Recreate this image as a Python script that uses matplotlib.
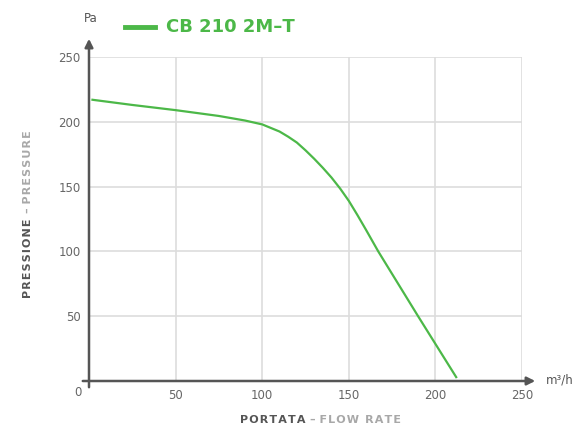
import matplotlib.pyplot as plt

# kurve
flow = [2, 25, 50, 75, 90, 100, 110, 115, 120, 125, 130, 135, 140, 145, 150, 155, 160, 167, 190, 212]
pressure = [217, 213, 209, 204.5, 201, 198, 192.5, 188.5, 184, 178, 171.5, 164.5, 157, 148.5,
            139, 128, 116.5, 100, 50, 3]

x_ticks = [50, 100, 150, 200, 250]
y_ticks = [50, 100, 150, 200, 250]
series_name = "CB 210 2M\u2013T"

W, H = 582, 428
fig = plt.figure(figsize=(W / 100, H / 100), dpi=100)
plt.rcParams['font.family'] = 'DejaVu Sans'

def fx(px):
    return px / W

def fy(py):
    return 1 - py / H

def spaced(s):
    # bred bogstavafstand som i originalen
    return "\u200a".join(s)

ax = fig.add_axes([fx(89), fy(381), fx(522) - fx(89), fy(57) - fy(381)])
ax.set_xlim(0, 250)
ax.set_ylim(0, 250)

green = "#4cb848"
dark = "#555555"
light = "#a8a8a8"

ax.plot(flow, pressure, color=green, linewidth=1.6, zorder=3)

ax.set_xticks(x_ticks)
ax.set_yticks(y_ticks)
ax.grid(True, color="#dddddd", linewidth=1.2)
ax.tick_params(length=0, colors="#666666", labelsize=8.5, pad=6)
for s in ax.spines.values():
    s.set_visible(False)

# akser med pile
ax.annotate("", xy=(fx(89), fy(36)), xytext=(fx(89), fy(390)), xycoords="figure fraction",
            arrowprops=dict(arrowstyle="-|>", color=dark, lw=1.8, mutation_scale=12))
ax.annotate("", xy=(fx(538), fy(381)), xytext=(fx(80), fy(381)), xycoords="figure fraction",
            arrowprops=dict(arrowstyle="-|>", color=dark, lw=1.8, mutation_scale=12))

fig.text(fx(78), fy(392), "0", color="#666666", fontsize=8.5, ha="center", va="center")
fig.text(fx(91), fy(18), "Pa", color=dark, fontsize=8.5, ha="center", va="center")
fig.text(fx(546), fy(380), "m\u00b3/h", color=dark, fontsize=8.5, ha="left", va="center")

# legende
fig.add_artist(plt.Line2D([fx(125), fx(155)], [fy(27), fy(27)], color=green, linewidth=3.5))
fig.text(fx(166), fy(27), series_name, color=green, fontsize=13, fontweight="bold",
         ha="left", va="center")

# akse-titler
fig.text(fx(306), fy(420), spaced("PORTATA"), color=dark, fontsize=8, fontweight="bold",
         ha="right", va="center")
fig.text(fx(310), fy(420), "\u2013 " + spaced("FLOW RATE"), color=light, fontsize=8,
         fontweight="bold", ha="left", va="center")
fig.text(fx(28), fy(298), spaced("PRESSIONE"), color=dark, fontsize=8, fontweight="bold",
         rotation=90, ha="center", va="bottom")
fig.text(fx(28), fy(213), "\u2013 " + spaced("PRESSURE"), color=light, fontsize=8,
         fontweight="bold", rotation=90, ha="center", va="bottom")

fig.savefig("out.png", dpi=100)
